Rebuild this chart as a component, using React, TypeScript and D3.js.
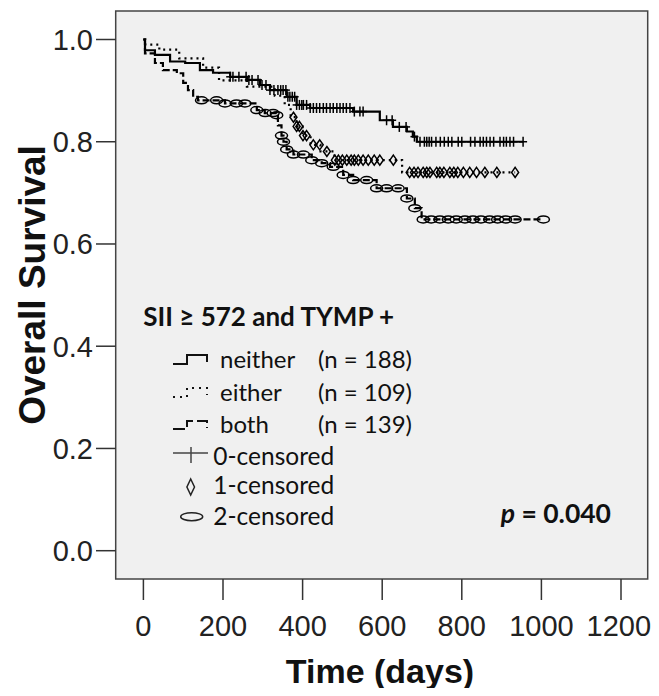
import React from 'react';
import * as d3 from 'd3';

// ---------- data ----------
const xTicks = [0, 200, 400, 600, 800, 1000, 1200];
const yTicks = [0, 0.2, 0.4, 0.6, 0.8, 1.0];

const neitherTimes = [4, 29, 67, 105, 142, 175, 218, 260, 293, 318, 360, 385, 419, 527, 594, 627, 662, 677, 687];
const neitherSurv = [0.979, 0.97, 0.957, 0.954, 0.94, 0.935, 0.927, 0.921, 0.911, 0.901, 0.888, 0.872, 0.866, 0.859, 0.842, 0.829, 0.82, 0.81, 0.8];
const neitherEnd = 954;
const neitherCensor = [218, 225, 240, 258, 265, 273, 288, 298, 308, 318, 328, 338, 345, 351, 358, 363, 368, 374, 380, 385, 392, 398, 402, 410, 419, 427, 435, 443, 452, 460, 469, 477, 486, 494, 502, 510, 519, 530, 544, 552, 611, 625, 643, 660, 681, 695, 706, 712, 718, 724, 735, 746, 756, 766, 775, 791, 800, 822, 833, 846, 854, 862, 871, 880, 896, 905, 912, 921, 930, 954];

const eitherTimes = [5, 40, 90, 150, 190, 260, 330, 355, 370, 385, 400, 420, 445, 480, 650];
const eitherSurv = [0.99, 0.98, 0.963, 0.945, 0.92, 0.908, 0.89, 0.872, 0.848, 0.83, 0.812, 0.794, 0.781, 0.764, 0.74];
const eitherEnd = 934;
const eitherCensor = [377, 385, 392, 401, 410, 427, 443, 461, 481, 490, 500, 511, 522, 530, 540, 552, 565, 580, 594, 628, 669, 680, 690, 703, 712, 720, 737, 745, 755, 770, 780, 790, 804, 820, 837, 858, 888, 934];

const bothTimes = [4, 29, 49, 84, 100, 112, 125, 137, 205, 285, 305, 335, 338, 347, 352, 360, 377, 423, 448, 469, 502, 527, 586, 662, 682, 699];
const bothSurv = [0.973, 0.954, 0.94, 0.934, 0.915, 0.901, 0.888, 0.881, 0.875, 0.862, 0.856, 0.852, 0.832, 0.812, 0.8, 0.785, 0.775, 0.764, 0.758, 0.751, 0.735, 0.725, 0.709, 0.689, 0.67, 0.648];
const bothEnd = 1005;
const bothCensor = [146, 184, 205, 234, 255, 285, 306, 326, 335, 347, 352, 360, 377, 402, 423, 448, 477, 502, 527, 561, 586, 611, 640, 662, 682, 703, 723, 745, 766, 786, 808, 828, 848, 870, 890, 910, 934, 1005];

const groupLabels = ['neither', 'either', 'both'];
const groupNs = ['(n = 188)', '(n = 109)', '(n = 139)'];
const censorLabels = ['0-censored', '1-censored', '2-censored'];
const legendTitle = 'SII \u2265 572 and TYMP +';
const pValue = '0.040';

// ---------- layout ----------
const W = 659;
const H = 696;
const box = { left: 115.7, right: 647.7, top: 11, bottom: 579 };
const x = d3.scaleLinear().domain([0, 1200]).range([143.4, 621]);
const y = d3.scaleLinear().domain([0, 1]).range([550.7, 39.5]);

const axisFont = "'Liberation Sans', Arial, sans-serif";
const legFont = "Lato, 'Open Sans', sans-serif";
const tickFont = 29;

function kmPoints(times: number[], surv: number[], end: number): [number, number][] {
  const pts: [number, number][] = [[0, 1]];
  times.forEach((t, i) => pts.push([t, surv[i]]));
  pts.push([end, surv[surv.length - 1]]);
  return pts;
}
function survAt(times: number[], surv: number[], t: number) {
  let s = 1;
  for (let i = 0; i < times.length; i++) if (times[i] <= t) s = surv[i];
  return s;
}

const line = d3
  .line<[number, number]>()
  .x((d) => x(d[0]))
  .y((d) => y(d[1]))
  .curve(d3.curveStepAfter);

export default function App() {
  const groups = [
    { times: neitherTimes, surv: neitherSurv, end: neitherEnd, censor: neitherCensor, dash: undefined, mark: 'plus' },
    { times: eitherTimes, surv: eitherSurv, end: eitherEnd, censor: eitherCensor, dash: '2,4', mark: 'diamond' },
    { times: bothTimes, surv: bothSurv, end: bothEnd, censor: bothCensor, dash: '7,3', mark: 'ellipse' },
  ];

  const marker = (kind: string, cx: number, cy: number, key: string) => {
    if (kind === 'plus')
      return (
        <g key={key} stroke="#000" strokeWidth={1.5}>
          <line x1={cx} x2={cx} y1={cy - 5} y2={cy + 5} />
          <line x1={cx - 4} x2={cx + 4} y1={cy} y2={cy} />
        </g>
      );
    if (kind === 'diamond')
      return (
        <path
          key={key}
          d={`M${cx},${cy - 5}L${cx + 3.5},${cy}L${cx},${cy + 5}L${cx - 3.5},${cy}Z`}
          fill="none"
          stroke="#000"
          strokeWidth={1.5}
        />
      );
    return <ellipse key={key} cx={cx} cy={cy} rx={6} ry={3.5} fill="none" stroke="#000" strokeWidth={1.5} />;
  };

  const legRowY = [368.3, 400.7, 433.3];
  const censRowY = [465, 494, 525];
  // keep the last tick label inside the figure edge
  const labelX = (t: number) => Math.min(x(t), W - 8 - tickFont * 1.11);

  return (
    <svg width={W} height={H} style={{ display: 'block', margin: '-8px' }}>
      <rect x={0} y={0} width={W} height={H} fill="#fff" />
      <rect
        x={box.left}
        y={box.top}
        width={box.right - box.left}
        height={box.bottom - box.top}
        fill="#f0f0f0"
        stroke="#444"
        strokeWidth={1.5}
      />
      {/* y axis */}
      {yTicks.map((t) => (
        <g key={'y' + t}>
          <line x1={96} x2={box.left} y1={y(t)} y2={y(t)} stroke="#333" strokeWidth={1.5} />
          <text
            x={93}
            y={y(t)}
            dy="0.36em"
            textAnchor="end"
            fontFamily={axisFont}
            fontSize={tickFont}
            fill="#222"
          >
            {t.toFixed(1)}
          </text>
        </g>
      ))}
      {/* x axis */}
      {xTicks.map((t) => (
        <g key={'x' + t}>
          <line x1={x(t)} x2={x(t)} y1={box.bottom} y2={box.bottom + 21} stroke="#333" strokeWidth={1.5} />
          <text x={labelX(t)} y={636} textAnchor="middle" fontFamily={axisFont} fontSize={tickFont} fill="#222">
            {t}
          </text>
        </g>
      ))}
      <text x={380} y={683} textAnchor="middle" fontFamily={axisFont} fontWeight="bold" fontSize={34} fill="#111">
        Time (days)
      </text>
      <text
        transform={`translate(45,285) rotate(-90)`}
        textAnchor="middle"
        fontFamily={axisFont}
        fontWeight="bold"
        fontSize={37}
        fill="#111"
      >
        Overall Survival
      </text>

      {/* curves */}
      {groups.map((g, i) => (
        <path
          key={'c' + i}
          d={line(kmPoints(g.times, g.surv, g.end)) || ''}
          fill="none"
          stroke="#000"
          strokeWidth={2.2}
          strokeDasharray={g.dash}
        />
      ))}
      {groups.map((g, i) =>
        g.censor.map((t, j) => marker(g.mark, x(t), y(survAt(g.times, g.surv, t)), `m${i}-${j}`))
      )}

      {/* legend */}
      <text x={143.3} y={326} fontFamily={legFont} fontWeight="bold" fontSize={26} fill="#111">
        {legendTitle}
      </text>
      {groupLabels.map((lab, i) => (
        <g key={'lg' + i}>
          <text x={220} y={legRowY[i]} fontFamily={legFont} fontSize={24} fill="#111">
            {lab}
          </text>
          <text x={318} y={legRowY[i]} fontFamily={legFont} fontSize={24} fill="#111">
            {groupNs[i]}
          </text>
        </g>
      ))}
      {/* legend line symbols */}
      <path d="M173,364H187V355H207V362" fill="none" stroke="#111" strokeWidth={2} />
      <path d="M173,397H187V388H207V395" fill="none" stroke="#111" strokeWidth={2} strokeDasharray="2,5" />
      <path d="M173,429H187V421H207V428" fill="none" stroke="#111" strokeWidth={2} strokeDasharray="12,4" />
      {/* censor symbols */}
      <g stroke="#444" strokeWidth={1.5}>
        <line x1={173} x2={208} y1={453} y2={453} />
        <line x1={191} x2={191} y1={447} y2={463} />
      </g>
      <path d="M190.7,479L194.5,487L190.7,495L186.9,487Z" fill="none" stroke="#222" strokeWidth={1.5} />
      <ellipse cx={191.7} cy={516.7} rx={11} ry={4} fill="none" stroke="#222" strokeWidth={1.5} />
      {censorLabels.map((lab, i) => (
        <text key={'cl' + i} x={213.3} y={censRowY[i]} fontFamily={legFont} fontSize={24.5} fill="#111">
          {lab}
        </text>
      ))}
      <text x={611} y={523} textAnchor="end" fontFamily={legFont} fontWeight="bold" fontSize={26.5} fill="#111">
        <tspan fontStyle="italic">p</tspan>
        <tspan> = {pValue}</tspan>
      </text>
    </svg>
  );
}
